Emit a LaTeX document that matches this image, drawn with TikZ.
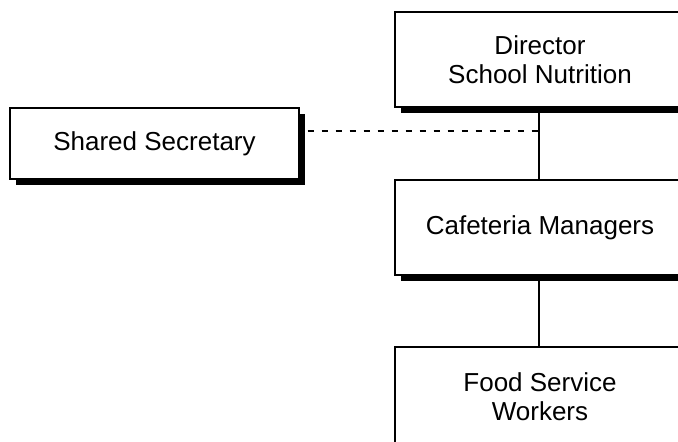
\documentclass[tikz,border=0pt]{standalone}
\usepackage{fontspec}
\setmainfont{Liberation Sans}
\usetikzlibrary{shadows}

\tikzset{
    orgbox/.style={draw, fill=white, line width=1.2pt, align=center,
        minimum width=290pt, minimum height=95pt,
        font=\fontsize{26}{29}\selectfont,
        drop shadow={shadow xshift=5.5pt, shadow yshift=-5.5pt, fill=black, opacity=1}},
    link/.style={line width=1.5pt}
}

\begin{document}
\begin{tikzpicture}[x=1pt, y=-1pt]
        \useasboundingbox (0, 0) rectangle (678, 442);

        % Nodes
        \node[orgbox] (dir) at (540, 59.5) {Director\\School Nutrition};
        \node[orgbox, minimum width=289pt, minimum height=71pt] (sec) at (154.5, 143.5) {Shared Secretary};
        \node[orgbox] (caf) at (540, 227.5) {Cafeteria Managers};
        \node[orgbox, minimum height=100pt] (food) at (540, 397) {Food Service\\Workers};
        \coordinate (jn) at (539, 131);

        % Edges
        \draw[link] (dir.south -| jn) -- (caf.north -| jn);
        \draw[link] (caf.south -| jn) -- (food.north -| jn);
        \draw[line width=1.2pt, dash pattern=on 6pt off 8pt, shorten <=8pt] (sec.east |- jn) -- (jn);
    \end{tikzpicture}
\end{document}
